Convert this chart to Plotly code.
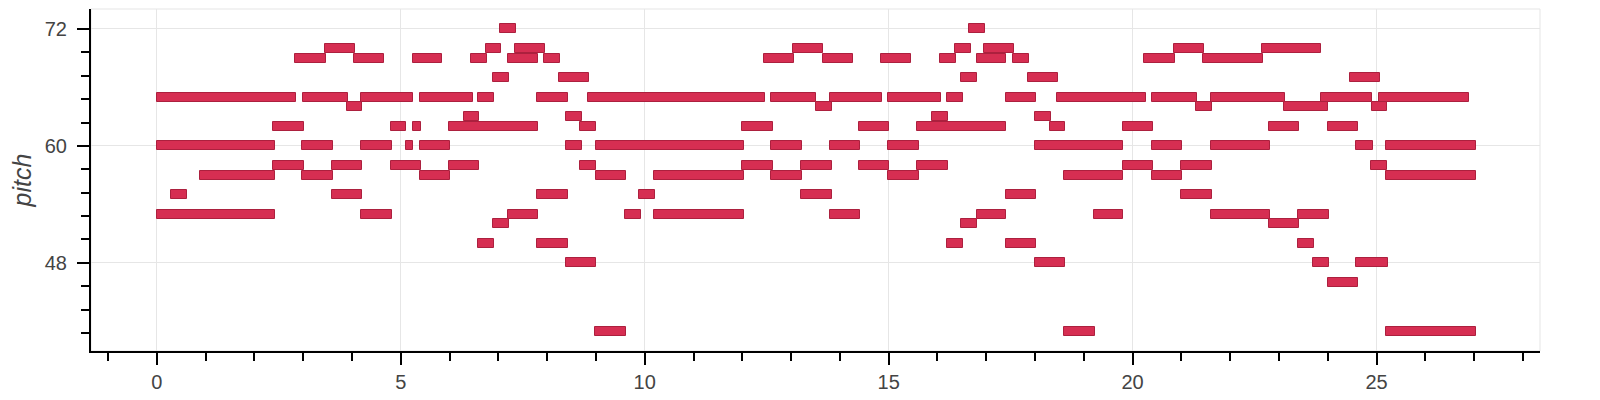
import plotly.graph_objects as go

# Piano-roll notes: pitch, onset time, offset time
pitch = [
    72, 72,
    70, 70, 70, 70, 70, 70, 70, 70,
    69, 69, 69, 69, 69, 69, 69, 69, 69, 69, 69, 69, 69, 69,
    67, 67, 67, 67, 67,
    65, 65, 65, 65, 65, 65, 65, 65, 65, 65, 65, 65, 65, 65, 65, 65, 65,
    64, 64, 64, 64, 64,
    63, 63, 63, 63,
    62, 62, 62, 62, 62, 62, 62, 62, 62, 62, 62, 62,
    60, 60, 60, 60, 60, 60, 60, 60, 60, 60, 60, 60, 60, 60, 60,
    58, 58, 58, 58, 58, 58, 58, 58, 58, 58, 58, 58,
    57, 57, 57, 57, 57, 57, 57, 57, 57, 57,
    55, 55, 55, 55, 55, 55, 55,
    53, 53, 53, 53, 53, 53, 53, 53, 53, 53,
    52, 52, 52,
    50, 50, 50, 50, 50,
    48, 48, 48, 48,
    46,
    41, 41, 41,
]
start = [
    7.04, 16.65,
    3.44, 6.74, 7.35, 13.04, 16.35, 16.95, 20.85, 22.65,
    2.84, 4.04, 5.24, 6.43, 7.20, 7.93, 12.45, 13.66, 14.85, 16.05, 16.80, 17.55, 20.23, 21.44,
    6.89, 8.25, 16.49, 17.86, 24.45,
    0.00, 3.00, 4.19, 5.39, 6.59, 7.79, 8.84, 12.58, 13.79, 14.99, 16.20, 17.40, 18.45, 20.40, 21.60, 23.86, 25.05,
    3.89, 13.50, 21.30, 23.10, 24.91,
    6.29, 8.39, 15.89, 18.00,
    2.39, 4.79, 5.24, 5.99, 8.68, 12.00, 14.39, 15.59, 18.30, 19.80, 22.79, 24.00,
    0.00, 2.98, 4.19, 5.10, 5.39, 8.39, 9.00, 12.58, 13.79, 14.99, 18.00, 20.40, 21.60, 24.58, 25.19,
    2.39, 3.59, 4.79, 5.99, 8.68, 12.00, 13.20, 14.39, 15.59, 19.80, 21.00, 24.89,
    0.89, 2.98, 5.39, 9.00, 10.19, 12.58, 14.99, 18.59, 20.40, 25.19,
    0.29, 3.59, 7.79, 9.88, 13.20, 17.40, 21.00,
    0.00, 4.19, 7.20, 9.59, 10.19, 13.79, 16.80, 19.20, 21.60, 23.39,
    6.89, 16.49, 22.79,
    6.59, 7.79, 16.20, 17.40, 23.39,
    8.39, 18.00, 23.69, 24.58,
    24.00,
    8.99, 18.59, 25.19,
]
end = [
    7.36, 16.97,
    4.06, 7.06, 7.95, 13.66, 16.68, 17.56, 21.46, 23.86,
    3.46, 4.66, 5.85, 6.76, 7.81, 8.26, 13.05, 14.27, 15.46, 16.37, 17.41, 17.87, 20.86, 22.67,
    7.21, 8.86, 16.82, 18.47, 25.08,
    2.86, 3.92, 5.25, 6.47, 6.91, 8.42, 12.47, 13.52, 14.87, 16.07, 16.53, 18.01, 20.27, 21.32, 23.12, 24.91, 26.89,
    4.21, 13.83, 21.63, 24.00, 25.22,
    6.61, 8.71, 16.22, 18.32,
    3.01, 5.10, 5.41, 7.81, 9.01, 12.62, 15.00, 17.41, 18.62, 20.42, 23.41, 24.62,
    2.42, 3.61, 4.81, 5.25, 6.00, 8.71, 12.03, 13.22, 14.42, 15.62, 19.81, 21.02, 22.82, 24.92, 27.03,
    3.01, 4.21, 5.41, 6.61, 9.01, 12.62, 13.83, 15.00, 16.22, 20.42, 21.63, 25.22,
    2.42, 3.61, 6.00, 9.61, 12.03, 13.22, 15.62, 19.81, 21.02, 27.03,
    0.61, 4.21, 8.42, 10.22, 13.83, 18.01, 21.63,
    2.42, 4.81, 7.81, 9.92, 12.03, 14.42, 17.41, 19.81, 22.82, 24.02,
    7.21, 16.82, 23.42,
    6.91, 8.42, 16.53, 18.01, 23.72,
    9.01, 18.62, 24.02, 25.23,
    24.62,
    9.61, 19.22, 27.03,
]

duration = [e - s for s, e in zip(start, end)]

fig = go.Figure(
    go.Bar(
        orientation="h",
        y=pitch,
        x=duration,
        base=start,
        width=0.92,
        marker=dict(color="rgb(214,46,82)", line=dict(color="rgb(172,32,62)", width=1)),
        hoverinfo="skip",
    )
)

font_family = "Liberation Sans, Arial, sans-serif"

axis_common = dict(
    showline=True,
    linecolor="black",
    linewidth=2,
    ticks="outside",
    ticklen=12,
    tickwidth=2,
    tickcolor="black",
    showgrid=True,
    gridcolor="#e6e6e6",
    gridwidth=1,
    zeroline=False,
    tickfont=dict(family=font_family, size=20, color="#444"),
)

fig.update_xaxes(
    range=[-1.35, 28.35],
    tickmode="linear",
    tick0=0,
    dtick=5,
    minor=dict(tick0=0, dtick=1, ticks="outside", ticklen=8, tickwidth=2, tickcolor="black", showgrid=False),
    **axis_common,
)
fig.update_yaxes(
    range=[38.95, 74.05],
    tickmode="linear",
    tick0=0,
    dtick=12,
    ticklabelstandoff=6,
    minor=dict(tick0=0, dtick=2.4, ticks="outside", ticklen=8, tickwidth=2, tickcolor="black", showgrid=False),
    title=dict(
        text="pitch",
        font=dict(family=font_family, size=25, color="#444", style="italic"),
        standoff=6,
    ),
    **axis_common,
)

fig.add_shape(
    type="rect", xref="paper", yref="paper", x0=0, y0=0, x1=1, y1=1,
    line=dict(color="#e5e5e5", width=1), layer="below",
)

# page body has an 8px margin, so the figure is sized to fit the 1600x400 window
fig.update_layout(
    width=1592,
    height=392,
    margin=dict(l=83, r=60, t=1, b=49),
    plot_bgcolor="white",
    paper_bgcolor="white",
    showlegend=False,
    bargap=0,
)

fig.write_html("out.html")
